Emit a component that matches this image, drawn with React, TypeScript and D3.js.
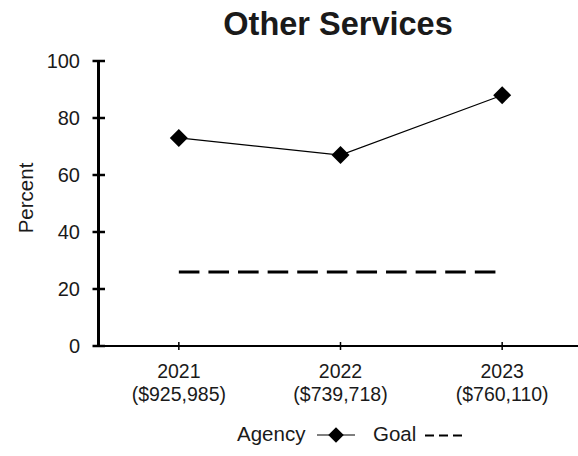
import React from "react";
import * as d3 from "d3";

const categories = ["2021", "2022", "2023"];
const amounts = ["($925,985)", "($739,718)", "($760,110)"];
const agencyValues = [73, 67, 88];
const goalValues = [26, 26, 26];
const yTicks = [0, 20, 40, 60, 80, 100];
const title = "Other Services";
const yLabel = "Percent";

const W = 578;
const H = 456;

export default function App() {
  const x = d3.scaleBand<string>().domain(categories).range([98, 583]).padding(0);
  const cx = (c: string) => (x(c) as number) + x.bandwidth() / 2;
  const y = d3.scaleLinear().domain([0, 100]).range([346, 61]);

  const agencyLine = d3
    .line<number>()
    .x((_, i) => cx(categories[i]))
    .y((d) => y(d));
  const goalLine = d3
    .line<number>()
    .x((_, i) => cx(categories[i]))
    .y((d) => y(d));

  const diamond = d3.symbol().type(d3.symbolSquare).size(162)() as string;
  const legendDiamond = d3.symbol().type(d3.symbolSquare).size(120)() as string;

  const font = "'Liberation Sans', Arial, sans-serif";

  return (
    <svg
      width={W}
      height={H}
      style={{ position: "absolute", left: 0, top: 0, background: "#fff" }}
      fontFamily={font}
    >
      <rect x={0} y={0} width={W} height={H} fill="#fff" />
      <text x={338} y={35} textAnchor="middle" fontSize={32.5} fontWeight="bold" fill="#1a1a1a">
        {title}
      </text>
      <text
        transform={`translate(33,198) rotate(-90)`}
        textAnchor="middle"
        fontSize={20.5}
        fill="#1a1a1a"
      >
        {yLabel}
      </text>

      {/* y axis */}
      <line x1={98.5} x2={98.5} y1={y(100)} y2={y(0) + 1} stroke="#000" strokeWidth={3} />
      {yTicks.map((t) => (
        <g key={t}>
          <line x1={92.5} x2={105} y1={y(t)} y2={y(t)} stroke="#000" strokeWidth={2.5} />
          <text x={80} y={y(t)} dy="0.36em" textAnchor="end" fontSize={20} fill="#1a1a1a">
            {t}
          </text>
        </g>
      ))}

      {/* x axis */}
      <line x1={97} x2={W} y1={y(0)} y2={y(0)} stroke="#000" strokeWidth={2} />
      {categories.map((c, i) => (
        <g key={c}>
          <line x1={cx(c)} x2={cx(c)} y1={y(0) - 4} y2={y(0) + 4} stroke="#000" strokeWidth={1.5} />
          <text x={cx(c)} y={378} textAnchor="middle" fontSize={19.5} fill="#1a1a1a">
            {c}
          </text>
          <text x={cx(c)} y={400.5} textAnchor="middle" fontSize={19.5} fill="#1a1a1a">
            {amounts[i]}
          </text>
        </g>
      ))}

      {/* goal */}
      <path
        d={goalLine(goalValues) as string}
        fill="none"
        stroke="#000"
        strokeWidth={3}
        strokeDasharray="20.6 9"
      />

      {/* agency */}
      <path d={agencyLine(agencyValues) as string} fill="none" stroke="#000" strokeWidth={1.2} />
      {agencyValues.map((v, i) => (
        <path
          key={i}
          d={diamond}
          transform={`translate(${cx(categories[i])},${y(v)}) rotate(45)`}
          fill="#000"
        />
      ))}

      {/* legend */}
      <text x={237} y={441} fontSize={20.5} fill="#1a1a1a">
        Agency
      </text>
      <line x1={317} x2={355} y1={435} y2={435} stroke="#000" strokeWidth={1.2} />
      <path d={legendDiamond} transform="translate(336,435) rotate(45)" fill="#000" />
      <text x={373} y={441} fontSize={20.5} fill="#1a1a1a">
        Goal
      </text>
      <line
        x1={425}
        x2={462}
        y1={435.5}
        y2={435.5}
        stroke="#000"
        strokeWidth={2}
        strokeDasharray="9 5"
      />
    </svg>
  );
}
